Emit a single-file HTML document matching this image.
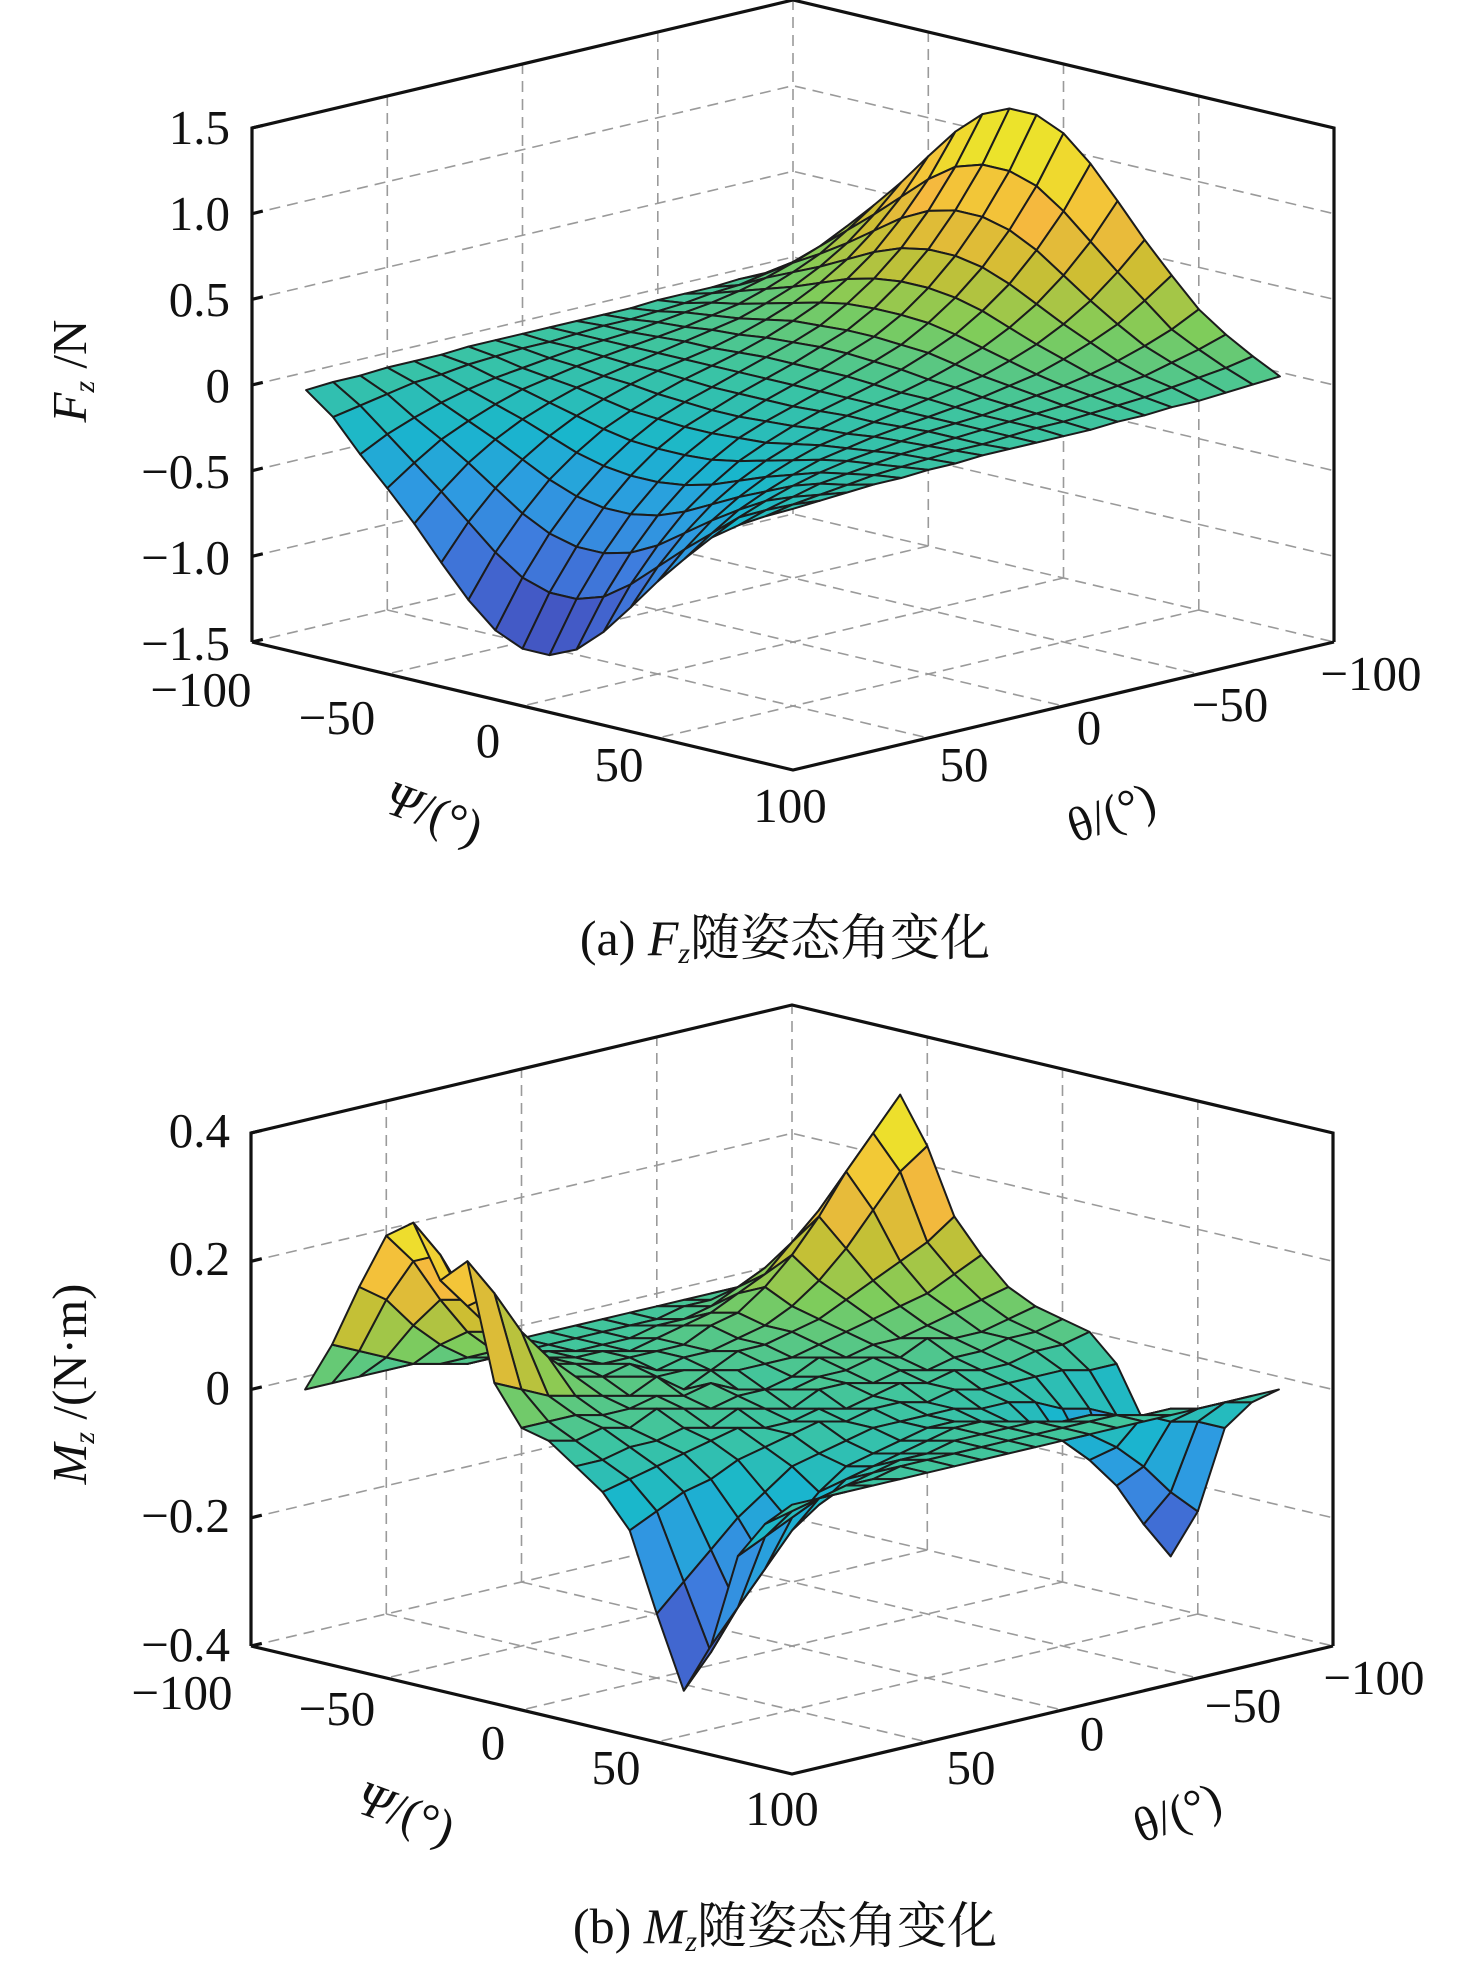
<!DOCTYPE html>
<html><head><meta charset="utf-8"><style>
html,body{margin:0;padding:0;background:#fff}
svg{display:block}
text{font-family:"Liberation Serif","Noto Serif CJK SC","Noto Sans CJK SC",serif;fill:#111}
</style></head><body>
<svg id="fig" width="1476" height="1973" viewBox="0 0 1476 1973" xmlns="http://www.w3.org/2000/svg">
<g id="plotA"></g>
<g id="plotB"></g>
<g font-size="49">
 <text x="230" y="144" text-anchor="end">1.5</text>
 <text x="230" y="230" text-anchor="end">1.0</text>
 <text x="230" y="316" text-anchor="end">0.5</text>
 <text x="230" y="402" text-anchor="end">0</text>
 <text x="230" y="488" text-anchor="end">−0.5</text>
 <text x="230" y="574" text-anchor="end">−1.0</text>
 <text x="230" y="660" text-anchor="end">−1.5</text>
 <text x="201" y="706" text-anchor="middle">−100</text>
 <text x="337" y="734" text-anchor="middle">−50</text>
 <text x="488" y="757" text-anchor="middle">0</text>
 <text x="619" y="781" text-anchor="middle">50</text>
 <text x="790" y="822" text-anchor="middle">100</text>
 <text x="964" y="781" text-anchor="middle">50</text>
 <text x="1089" y="744" text-anchor="middle">0</text>
 <text x="1230" y="721" text-anchor="middle">−50</text>
 <text x="1371" y="690" text-anchor="middle">−100</text>
 <text transform="translate(428,828) rotate(20)" text-anchor="middle"><tspan font-style="italic">Ψ</tspan>/(°)</text>
 <text transform="translate(1117,828) rotate(-20)" text-anchor="middle">θ/(°)</text>
 <text transform="translate(86,371) rotate(-90)" text-anchor="middle"><tspan font-style="italic">F</tspan><tspan font-style="italic" font-size="30" dy="8">z</tspan><tspan dy="-8"> /N</tspan></text>
</g>
<text x="785" y="955" font-size="50" text-anchor="middle">(a) <tspan font-style="italic">F</tspan><tspan font-style="italic" font-size="30" dy="8">z</tspan><tspan dy="-8">随姿态角变化</tspan></text>
<g font-size="49">
 <text x="230" y="1147" text-anchor="end">0.4</text>
 <text x="230" y="1275" text-anchor="end">0.2</text>
 <text x="230" y="1404" text-anchor="end">0</text>
 <text x="230" y="1532" text-anchor="end">−0.2</text>
 <text x="230" y="1661" text-anchor="end">−0.4</text>
 <text x="182" y="1709" text-anchor="middle">−100</text>
 <text x="337" y="1725" text-anchor="middle">−50</text>
 <text x="493" y="1759" text-anchor="middle">0</text>
 <text x="616" y="1784" text-anchor="middle">50</text>
 <text x="782" y="1825" text-anchor="middle">100</text>
 <text x="971" y="1784" text-anchor="middle">50</text>
 <text x="1092" y="1750" text-anchor="middle">0</text>
 <text x="1243" y="1722" text-anchor="middle">−50</text>
 <text x="1374" y="1694" text-anchor="middle">−100</text>
 <text transform="translate(400,1828) rotate(20)" text-anchor="middle"><tspan font-style="italic">Ψ</tspan>/(°)</text>
 <text transform="translate(1183,1828) rotate(-20)" text-anchor="middle">θ/(°)</text>
 <text transform="translate(86,1384) rotate(-90)" text-anchor="middle"><tspan font-style="italic">M</tspan><tspan font-style="italic" font-size="30" dy="8">z</tspan><tspan dy="-8"> /(N·m)</tspan></text>
</g>
<text x="785" y="1943" font-size="50" text-anchor="middle">(b) <tspan font-style="italic">M</tspan><tspan font-style="italic" font-size="30" dy="8">z</tspan><tspan dy="-8">随姿态角变化</tspan></text>
</svg>
<script>
const psiVals = [-90,-80,-70,-60,-50,-40,-30,-20,-10,0,10,20,30,40,50,60,70,80,90];
const thetaVals = [-90,-80,-70,-60,-50,-40,-30,-20,-10,0,10,20,30,40,50,60,70,80,90];
const angleTicks = [-50,0,50];
const fzTicks = [-1.5,-1,-0.5,0,0.5,1,1.5];
const mzTicks = [-0.4,-0.2,0,0.2,0.4];
// Fz rows: one row per theta value, columns follow psiVals
const fzGrid = [
[0.03,0.15,0.33,0.49,0.66,0.85,1.03,1.17,1.24,1.24,1.17,1.03,0.85,0.66,0.49,0.33,0.22,0.13,0.05],
[0.02,0.12,0.25,0.38,0.51,0.65,0.79,0.90,0.95,0.95,0.90,0.79,0.65,0.51,0.38,0.25,0.17,0.10,0.04],
[0.02,0.09,0.19,0.28,0.38,0.49,0.60,0.68,0.72,0.72,0.68,0.60,0.49,0.38,0.28,0.19,0.13,0.08,0.03],
[0.01,0.06,0.14,0.21,0.28,0.36,0.44,0.50,0.53,0.53,0.50,0.44,0.36,0.28,0.21,0.14,0.09,0.06,0.02],
[0.01,0.05,0.10,0.15,0.20,0.26,0.32,0.36,0.38,0.38,0.36,0.32,0.26,0.20,0.15,0.10,0.07,0.04,0.02],
[0.01,0.03,0.07,0.10,0.14,0.18,0.22,0.25,0.26,0.26,0.25,0.22,0.18,0.14,0.10,0.07,0.05,0.03,0.01],
[0,0.02,0.05,0.07,0.09,0.12,0.15,0.16,0.17,0.17,0.16,0.15,0.12,0.09,0.07,0.05,0.03,0.02,0.01],
[0,0.01,0.03,0.04,0.06,0.07,0.09,0.10,0.11,0.11,0.10,0.09,0.07,0.06,0.04,0.03,0.02,0.01,0],
[0,0.01,0.01,0.02,0.03,0.03,0.04,0.05,0.05,0.05,0.05,0.04,0.03,0.03,0.02,0.01,0.01,0.01,0],
[0,0,0,0,0,0,0,0,0,0,0,0,0,0,0,0,0,0,0],
[0,-0.01,-0.01,-0.02,-0.03,-0.03,-0.04,-0.05,-0.05,-0.05,-0.05,-0.04,-0.03,-0.03,-0.02,-0.01,-0.01,-0.01,0],
[0,-0.01,-0.03,-0.04,-0.06,-0.07,-0.09,-0.10,-0.11,-0.11,-0.10,-0.09,-0.07,-0.06,-0.04,-0.03,-0.02,-0.01,0],
[0,-0.02,-0.05,-0.07,-0.09,-0.12,-0.15,-0.16,-0.17,-0.17,-0.16,-0.15,-0.12,-0.09,-0.07,-0.05,-0.03,-0.02,-0.01],
[-0.01,-0.03,-0.07,-0.10,-0.14,-0.18,-0.22,-0.25,-0.26,-0.26,-0.25,-0.22,-0.18,-0.14,-0.10,-0.07,-0.05,-0.03,-0.01],
[-0.01,-0.05,-0.10,-0.15,-0.20,-0.26,-0.32,-0.36,-0.38,-0.38,-0.36,-0.32,-0.26,-0.20,-0.15,-0.10,-0.07,-0.04,-0.02],
[-0.01,-0.06,-0.14,-0.21,-0.28,-0.36,-0.44,-0.50,-0.53,-0.53,-0.50,-0.44,-0.36,-0.28,-0.21,-0.14,-0.09,-0.06,-0.02],
[-0.02,-0.09,-0.19,-0.28,-0.38,-0.49,-0.60,-0.68,-0.72,-0.72,-0.68,-0.60,-0.49,-0.38,-0.28,-0.19,-0.13,-0.08,-0.03],
[-0.02,-0.12,-0.25,-0.38,-0.51,-0.65,-0.79,-0.90,-0.95,-0.95,-0.90,-0.79,-0.65,-0.51,-0.38,-0.25,-0.17,-0.10,-0.04],
[-0.03,-0.15,-0.33,-0.49,-0.66,-0.85,-1.03,-1.17,-1.24,-1.24,-1.17,-1.03,-0.85,-0.66,-0.49,-0.33,-0.22,-0.13,-0.05]
];
// Mz rows: one row per theta value, columns follow psiVals
const mzGrid = [
[0,0.05,0.12,0.24,0.32,0.25,0.15,0.10,0.06,0.04,0.03,0.02,-0.02,-0.10,-0.30,-0.22,-0.08,-0.03,0],
[0,0.04,0.10,0.20,0.27,0.22,0.12,0.08,0.05,0.03,0.02,0.01,-0.02,-0.08,-0.24,-0.18,-0.06,-0.02,0],
[0,0.03,0.08,0.15,0.22,0.17,0.10,0.06,0.04,0.02,0.02,0.01,-0.01,-0.06,-0.17,-0.13,-0.05,-0.02,0],
[0,0.02,0.06,0.11,0.16,0.12,0.08,0.05,0.03,0.02,0.01,0,-0.01,-0.05,-0.12,-0.09,-0.03,-0.01,0],
[0,0.01,0.04,0.07,0.11,0.08,0.06,0.04,0.02,0.03,0.01,0,-0.01,-0.03,-0.08,-0.06,-0.02,-0.01,0],
[0,0.01,0.02,0.05,0.07,0.05,0.04,0.03,0.02,0.01,0,0.01,-0.01,-0.02,-0.05,-0.04,-0.01,0,0],
[0,0,0.01,0.03,0.04,0.03,0.03,0.02,0.01,0.02,0.01,0,0,-0.02,-0.03,-0.02,-0.01,0,0],
[0,0,0.01,0.02,0.03,0.02,0.02,0.01,0.02,0.01,0,0.01,-0.01,-0.01,-0.02,-0.01,0,0,0],
[0,0,0,0.01,0.01,0.01,0.02,0.01,0,0.01,0.01,0,0,-0.01,-0.01,0,0,0,0],
[0,0,0,0,0.01,0.01,0,0.01,-0.01,0,0.01,-0.01,0,-0.01,-0.01,0,0,0,0],
[0,0,0,0.01,0.01,0,0.01,0.02,0,0.01,-0.01,0,-0.01,-0.01,-0.02,-0.01,0,0,0],
[0,0,0.01,0.01,0.01,0.02,0.01,0,0.02,0.01,0,-0.01,0,-0.02,-0.03,-0.02,-0.01,0,0],
[0,0,0.01,0.02,0.02,0.01,0.02,0.03,0.01,0,0.01,-0.01,-0.01,-0.03,-0.04,-0.03,-0.01,0,0],
[0,0,0.02,0.03,0.03,0.02,0.03,0.01,0.02,0.01,-0.01,0,-0.02,-0.04,-0.07,-0.04,-0.02,0,0],
[0,0.01,0.03,0.05,0.05,0.04,0.04,0.02,0.01,0.02,0,-0.01,-0.03,-0.07,-0.11,-0.07,-0.03,-0.01,0],
[0,0.02,0.06,0.09,0.10,0.07,0.08,0.03,0.01,0,-0.01,-0.02,-0.05,-0.10,-0.16,-0.10,-0.04,-0.01,0],
[0,0.04,0.10,0.15,0.16,0.12,0.13,0.04,0.02,0.01,-0.01,-0.03,-0.06,-0.14,-0.22,-0.15,-0.06,-0.02,0],
[0,0.06,0.15,0.22,0.24,0.17,0.20,0.06,0.02,0,-0.02,-0.04,-0.08,-0.18,-0.28,-0.20,-0.08,-0.03,0],
[0,0.08,0.18,0.27,0.30,0.22,0.26,0.08,0.02,0.01,-0.02,-0.05,-0.10,-0.22,-0.33,-0.25,-0.10,-0.04,0]
];

const NS = "http://www.w3.org/2000/svg";
const parula = [[68,72,180],[66,98,205],[62,125,222],[45,155,225],[25,182,205],[60,196,162],[129,204,89],[205,190,50],[245,185,62],[238,220,45],[232,238,40]];
function cmap(t){
  t = Math.max(0, Math.min(1, t));
  const p = t * (parula.length - 1), i = Math.min(Math.floor(p), parula.length - 2), f = p - i;
  const a = parula[i], b = parula[i + 1];
  return "rgb(" + [0,1,2].map(k => Math.round(a[k] + (b[k] - a[k]) * f)).join(",") + ")";
}
function makeAxes(P){
  return function(psi, th, z){
    return [P.cx + P.kx * (psi - th), P.by + P.ky * (psi + th) - (z - P.zmin) / (P.zmax - P.zmin) * P.h];
  };
}
function line(g, pts, dashed, name){
  const el = document.createElementNS(NS, "polyline");
  el.setAttribute("points", pts.map(p => p[0].toFixed(1) + "," + p[1].toFixed(1)).join(" "));
  el.setAttribute("fill", "none");
  el.setAttribute("stroke", dashed ? "#9a9a9a" : "#111");
  el.setAttribute("stroke-width", dashed ? "1.6" : "3.2");
  if (dashed) el.setAttribute("stroke-dasharray", "11 7");
  
  
  g.appendChild(el);
}
function drawPlot(gid, P, grid, zTicks){
  const g = document.getElementById(gid);
  const pr = makeAxes(P);
  const zmin = P.zmin, zmax = P.zmax;
  line(g, [pr(-100,-100,zmin), pr(-100,-100,zmax)], true, "back-corner-gridline");
  line(g, [pr(-100,100,zmin), pr(-100,-100,zmin), pr(100,-100,zmin)], true, "floor-back-edge");
  angleTicks.forEach(t => {
    line(g, [pr(-100,t,zmin), pr(-100,t,zmax)], true, "theta-wall-gridline");
    line(g, [pr(t,-100,zmin), pr(t,-100,zmax)], true, "psi-wall-gridline");
    line(g, [pr(t,-100,zmin), pr(t,100,zmin)], true, "psi-floor-gridline");
    line(g, [pr(-100,t,zmin), pr(100,t,zmin)], true, "theta-floor-gridline");
  });
  zTicks.forEach(z => {
    if (z > zmin && z < zmax) line(g, [pr(-100,100,z), pr(-100,-100,z), pr(100,-100,z)], true, "z-gridline");
  });
  let lo = Infinity, hi = -Infinity;
  grid.forEach(r => r.forEach(v => { lo = Math.min(lo, v); hi = Math.max(hi, v); }));
  const quads = [];
  for (let j = 0; j < thetaVals.length - 1; j++) {
    for (let i = 0; i < psiVals.length - 1; i++) {
      const c = [[i,j],[i+1,j],[i+1,j+1],[i,j+1]];
      const zs = c.map(q => grid[q[1]][q[0]]);
      const depth = psiVals[i] + psiVals[i+1] + thetaVals[j] + thetaVals[j+1];
      quads.push({c, zs, depth});
    }
  }
  quads.sort((a, b) => a.depth - b.depth);
  const sg = document.createElementNS(NS, "g");
  
  
  g.appendChild(sg);
  quads.forEach(q => {
    const pts = q.c.map((cc, k) => pr(psiVals[cc[0]], thetaVals[cc[1]], q.zs[k]));
    const avg = q.zs.reduce((s, v) => s + v, 0) / 4;
    const el = document.createElementNS(NS, "polygon");
    el.setAttribute("points", pts.map(p => p[0].toFixed(1) + "," + p[1].toFixed(1)).join(" "));
    el.setAttribute("fill", cmap((avg - lo) / (hi - lo)));
    el.setAttribute("stroke", "#1c1c1c");
    el.setAttribute("stroke-width", "2");
    el.setAttribute("stroke-linejoin", "round");
    
    
    sg.appendChild(el);
  });
  line(g, [pr(-100,100,zmin), pr(-100,100,zmax), pr(-100,-100,zmax), pr(100,-100,zmax), pr(100,-100,zmin)], false, "axis-box-top");
  line(g, [pr(-100,100,zmin), pr(100,100,zmin), pr(100,-100,zmin)], false, "axis-box-bottom");
  zTicks.forEach(z => {
    const a = pr(-100,100,z), b = pr(-100,96,z);
    line(g, [a, b], false, "z-tick-mark");
  });
}
drawPlot("plotA", {cx:793, kx:2.705, ky:0.64, by:642, h:514, zmin:-1.5, zmax:1.5}, fzGrid, fzTicks);
drawPlot("plotB", {cx:792, kx:2.705, ky:0.64, by:1646, h:513, zmin:-0.4, zmax:0.4}, mzGrid, mzTicks);
</script>
</body></html>
